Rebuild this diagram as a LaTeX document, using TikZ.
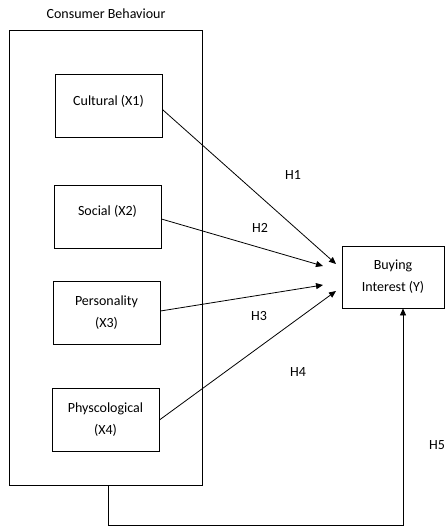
\documentclass[tikz,border=0pt]{standalone}
\usepackage{fontspec}
\setmainfont{Carlito}
\usetikzlibrary{arrows.meta}
\newcommand{\liftup}[2]{\raisebox{0pt}[\height][\dimexpr\depth+#1\relax]{#2}}
\begin{document}
\begin{tikzpicture}[x=1pt,y=-1pt,
  box/.style={draw,line width=0.8pt,minimum width=107pt,minimum height=63pt,inner sep=0pt,align=center,font=\fontsize{14}{22}\selectfont},
  lbl/.style={font=\fontsize{14}{16}\selectfont,inner sep=0pt},
  arr/.style={line width=0.8pt,-{Triangle[length=7pt,width=6pt]}}]
\useasboundingbox (0,0) rectangle (447,526);
\node[draw,line width=0.8pt,minimum width=193pt,minimum height=455pt,inner sep=0pt] (outer) at (105.5,257.5) {};
\node[lbl] (title) at (106,14) {Consumer Behaviour};
\node[box] (cult) at (108.5,105.5) {\liftup{9pt}{Cultural (X1)}};
\node[box] (soc) at (107.5,217) {\liftup{12pt}{Social (X2)}};
\node[box] (pers) at (106.5,312.5) {Personality\\(X3)};
\node[box] (psy) at (105.5,420) {Physcological\\(X4)};
\node[box,minimum width=102pt,minimum height=62pt] (buy) at (393,277) {Buying\\Interest (Y)};
\coordinate (t1) at (336,264);
\coordinate (t2) at (323,266);
\coordinate (t3) at (323,285);
\coordinate (t4) at (336,291);
\coordinate (c1) at (108,525);
\coordinate (c2) at (403,525);
\draw[arr] ([yshift=-4pt]cult.east) -- (t1);
\draw[arr] ([yshift=-2pt]soc.east) -- (t2);
\draw[arr] ([yshift=1.5pt]pers.east) -- (t3);
\draw[arr] (psy.east) -- (t4);
\draw[arr] (outer.south -| c1) -- (c1) -- (c2) -- (buy.south -| c2);
\node[lbl] (h1) at (293,175) {H1};
\node[lbl] (h2) at (260,228) {H2};
\node[lbl] (h3) at (259,316) {H3};
\node[lbl] (h4) at (298,372) {H4};
\node[lbl] (h5) at (437,445) {H5};
\end{tikzpicture}
\end{document}
